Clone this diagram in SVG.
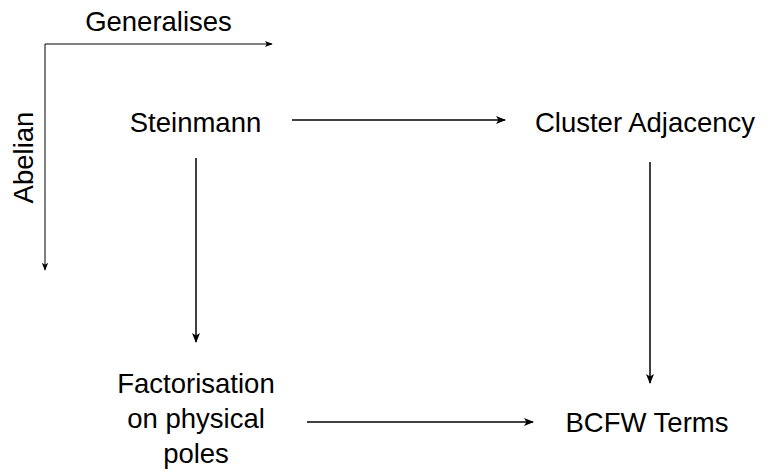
<svg xmlns="http://www.w3.org/2000/svg" width="769" height="474" viewBox="0 0 769 474">
<style>
text{font-family:"Liberation Sans",Arial,sans-serif;font-size:27.5px;fill:#000;text-anchor:middle}
.c{fill:none;stroke:#000;stroke-width:1.5}
.t{fill:none;stroke:#000;stroke-width:1}
</style>
<defs>
<marker id="a" viewBox="0 0 10 10" refX="9" refY="5" markerWidth="10" markerHeight="10" markerUnits="userSpaceOnUse" orient="auto">
<path d="M0,1 L10,5 L0,9 L2.5,5 Z" fill="#000"/>
</marker>
<marker id="s" viewBox="0 0 10 10" refX="9" refY="5" markerWidth="8" markerHeight="8" markerUnits="userSpaceOnUse" orient="auto-start-reverse">
<path d="M0,1 L10,5 L0,9 L2.5,5 Z" fill="#000"/>
</marker>
</defs>
<g id="legend">
<path class="t" d="M45,270 V44 H272" marker-start="url(#s)" marker-end="url(#s)"/>
<text x="158.5" y="31">Generalises</text>
<text transform="translate(33,157.5) rotate(-90)">Abelian</text>
</g>
<g id="steinmann"><text x="195.5" y="132">Steinmann</text></g>
<g id="cluster"><text x="645" y="132">Cluster Adjacency</text></g>
<g id="factorisation">
<text x="196" y="393">Factorisation</text>
<text x="196" y="428">on physical</text>
<text x="196" y="463">poles</text>
</g>
<g id="bcfw"><text x="647" y="432">BCFW Terms</text></g>
<g id="connectors">
<path class="c" d="M292,120 H505" marker-end="url(#a)"/>
<path class="c" d="M196,158 V342" marker-end="url(#a)"/>
<path class="c" d="M650,162 V383" marker-end="url(#a)"/>
<path class="c" d="M307,422 H533" marker-end="url(#a)"/>
</g>
</svg>
